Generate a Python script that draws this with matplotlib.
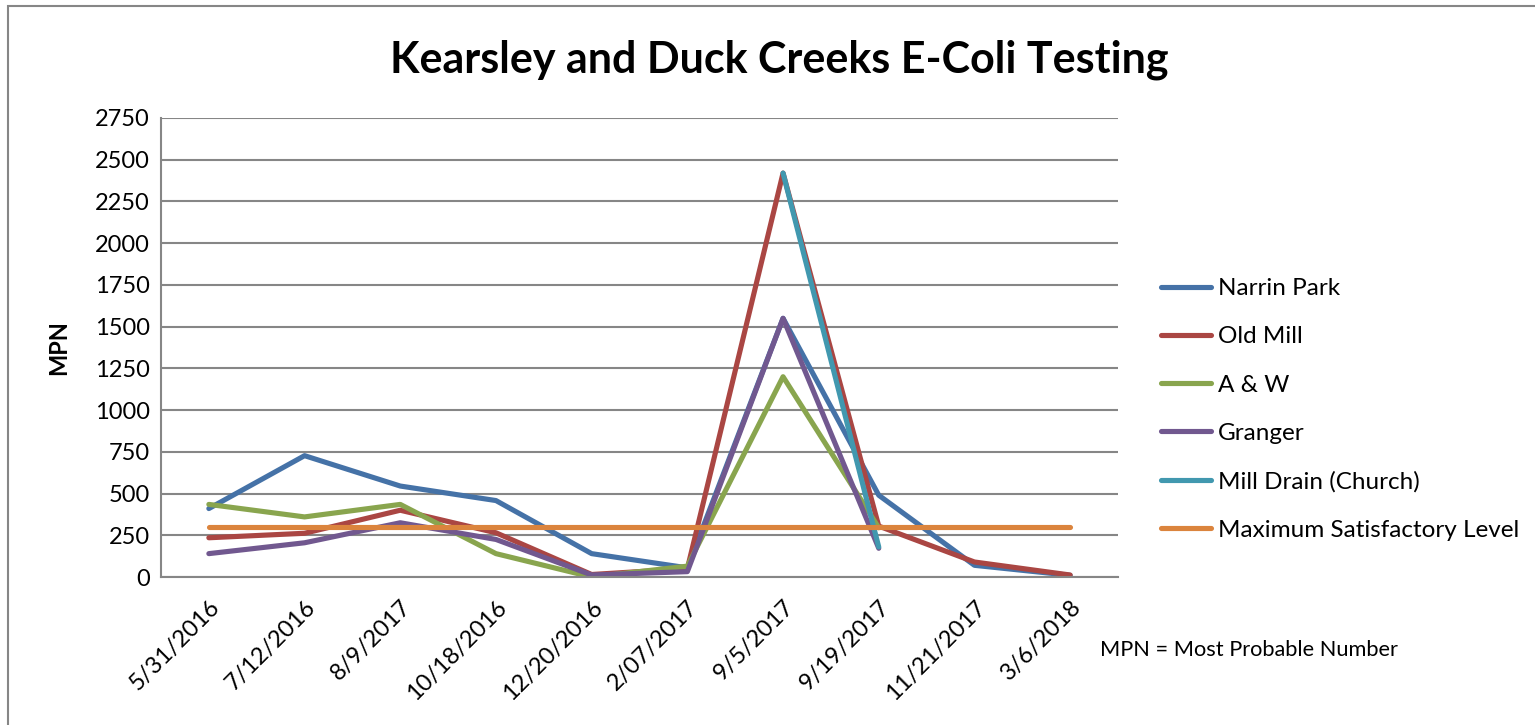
import numpy as np
import matplotlib.pyplot as plt
from matplotlib.patches import Rectangle

plt.rcParams['font.family'] = ['Lato', 'DejaVu Sans']

fechas = ['5/31/2016', '7/12/2016', '8/9/2017', '10/18/2016', '12/20/2016',
          '2/07/2017', '9/5/2017', '9/19/2017', '11/21/2017', '3/6/2018']
nan = np.nan

narrin_park = [410, 727, 545, 458, 140, 55, 1550, 490, 70, 10]
old_mill    = [235, 262, 400, 265, 15, 50, 2420, 305, 90, 12]
a_w         = [435, 360, 435, 140, 0, 65, 1200, 295, nan, nan]
granger     = [140, 205, 325, 225, 12, 32, 1550, 172, nan, nan]
mill_drain  = [nan, nan, nan, nan, nan, nan, 2420, 180, nan, nan]
max_nivel   = [300] * 10

series = [
    ('Narrin Park',                narrin_park, '#4572A7'),
    ('Old Mill',                   old_mill,    '#AA4643'),
    ('A & W',                      a_w,         '#89A54E'),
    ('Granger',                    granger,     '#71588F'),
    ('Mill Drain (Church)',        mill_drain,  '#4198AF'),
    ('Maximum Satisfactory Level', max_nivel,   '#DB843D'),
]

GRIS = '#868686'

fig = plt.figure(figsize=(15.35, 7.25), dpi=100)
fig.patch.set_facecolor('white')
fig.patches.append(Rectangle((8 / 1535, -0.05), 1.2, (725 - 6) / 725 + 0.05,
                             transform=fig.transFigure, fill=False,
                             edgecolor=GRIS, linewidth=1.5))

ax = fig.add_axes([161 / 1535, 148 / 725, 957 / 1535, 459 / 725])

x = np.arange(len(fechas))
for nombre, valores, color in series:
    ax.plot(x, valores, color=color, linewidth=3.7, label=nombre,
            solid_capstyle='round', solid_joinstyle='round')

ax.set_xlim(-0.5, len(fechas) - 0.5)
ax.set_ylim(0, 2750)
ax.set_yticks(np.arange(0, 2751, 250))
ax.set_xticks(x)
ax.set_xticklabels(fechas, rotation=45, ha='right', rotation_mode='anchor')
ax.tick_params(axis='both', length=0, labelsize=17, pad=8)
ax.tick_params(axis='x', pad=14)
ax.yaxis.grid(True, color=GRIS, linewidth=1.5)
ax.set_axisbelow(True)
for lado in ['top', 'right']:
    ax.spines[lado].set_visible(False)
for lado in ['left', 'bottom']:
    ax.spines[lado].set_color(GRIS)
    ax.spines[lado].set_linewidth(1.5)

ax.set_ylabel('MPN', fontsize=17, fontweight='bold', labelpad=18)

fig.text(779 / 1535, 1 - 60 / 725, 'Kearsley and Duck Creeks E-Coli Testing',
         ha='center', va='center', fontsize=31, fontweight='bold')

fig.legend(loc='upper left', bbox_to_anchor=(1149 / 1535, 1 - 266 / 725),
           frameon=False, fontsize=17.5, handlelength=2.05, handletextpad=0.3,
           labelspacing=1.12, borderpad=0)

fig.text(1100 / 1535, 1 - 650 / 725, 'MPN = Most Probable Number',
         ha='left', va='center', fontsize=15.7)

fig.savefig('out.png', dpi=100)
